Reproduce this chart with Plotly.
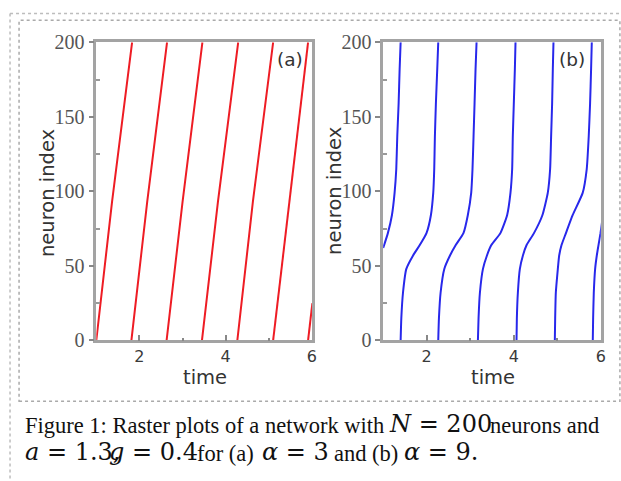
import plotly.graph_objects as go

# ---------------- data ----------------
# panel (a): alpha = 3, nearly straight travelling waves
a_index = [0, 93, 200]
a_wave1 = [1.00, 1.365, 1.83]
a_wave2 = [1.814, 2.18, 2.64]
a_wave3 = [2.63, 3.00, 3.46]
a_wave4 = [3.45, 3.82, 4.29]
a_wave5 = [4.27, 4.63, 5.10]
a_wave6 = [5.10, 5.47, 5.91]
a_wave7_index = [0, 25]
a_wave7 = [5.91, 6.01]

# panel (b): alpha = 9, S-shaped waves
b_index = [0, 15, 32, 48, 57, 64, 72, 84, 99, 115, 137, 159, 182, 200]
b_wave1_index = [62, 72, 84, 99, 115, 137, 159, 182, 200]
b_wave1 = [1.00, 1.108, 1.201, 1.262, 1.301, 1.324, 1.355, 1.378, 1.401]
b_wave2 = [1.401, 1.417, 1.455, 1.532, 1.687, 1.841, 1.995, 2.096, 2.150, 2.173, 2.188, 2.211, 2.242, 2.265]
b_wave3 = [2.265, 2.281, 2.319, 2.404, 2.535, 2.667, 2.844, 2.944, 3.022, 3.052, 3.076, 3.099, 3.122, 3.145]
b_wave4 = [3.176, 3.191, 3.222, 3.292, 3.384, 3.485, 3.693, 3.847, 3.924, 3.963, 3.978, 4.001, 4.025, 4.040]
b_wave5 = [4.063, 4.071, 4.094, 4.140, 4.210, 4.295, 4.464, 4.657, 4.781, 4.835, 4.858, 4.881, 4.897, 4.912]
b_wave6 = [4.943, 4.951, 4.966, 5.012, 5.043, 5.097, 5.198, 5.352, 5.583, 5.676, 5.722, 5.753, 5.776, 5.792]
b_wave7_index = [0, 15, 32, 48, 57, 64, 72, 80]
b_wave7 = [5.815, 5.823, 5.838, 5.869, 5.907, 5.946, 5.992, 6.03]

x_ticks = [2, 4, 6]
x_minor = [1, 3, 5]
y_ticks = [0, 50, 100, 150, 200]
y_minor = [25, 75, 125, 175]

RED = "rgb(238,28,36)"
BLUE = "rgb(40,40,235)"

# ---------------- figure ----------------
W, H = 628, 492
SX, SY, OY = 0.989, 0.958, 9.6   # capture scaling observed on the photographed page


def px(x):
    return x / (SX * W)


def py(y):
    return 1 - ((y - OY) / SY) / H


fig = go.Figure()

a_series = [(a_index, a_wave1), (a_index, a_wave2), (a_index, a_wave3), (a_index, a_wave4),
            (a_index, a_wave5), (a_index, a_wave6), (a_wave7_index, a_wave7)]
for idx, t in a_series:
    fig.add_trace(go.Scatter(x=t, y=idx, mode="lines", line=dict(color=RED, width=2),
                             xaxis="x", yaxis="y", showlegend=False, hoverinfo="skip"))

b_series = [(b_wave1_index, b_wave1), (b_index, b_wave2), (b_index, b_wave3), (b_index, b_wave4),
            (b_index, b_wave5), (b_index, b_wave6), (b_wave7_index, b_wave7)]
for idx, t in b_series:
    fig.add_trace(go.Scatter(x=t, y=idx, mode="lines",
                             line=dict(color=BLUE, width=2, shape="spline", smoothing=0.5),
                             xaxis="x2", yaxis="y2", showlegend=False, hoverinfo="skip"))

FRAME = "#a3a3a3"
xax = dict(range=[1, 6], tickvals=x_ticks, ticks="inside", ticklen=6, tickwidth=1.5, tickcolor="#888",
           showline=True, linecolor=FRAME, linewidth=2.5, mirror=True, showgrid=False, zeroline=False,
           tickfont=dict(family="DejaVu Sans", size=16, color="#3a3a3a"),
           minor=dict(tickvals=x_minor, ticks="inside", ticklen=3, tickcolor="#888", showgrid=False))
yax = dict(range=[0, 200], tickvals=y_ticks, ticks="outside", ticklen=5, tickwidth=1.5, tickcolor="#888",
           showline=True, linecolor=FRAME, linewidth=2.5, mirror=True, showgrid=False, zeroline=False,
           tickfont=dict(family="Liberation Serif, serif", size=20, color="#555"),
           minor=dict(tickvals=y_minor, ticks="inside", ticklen=4, tickcolor="#999", showgrid=False))

y_dom = [py(340), py(41)]
fig.update_layout(
    width=W, height=H, autosize=False,
    margin=dict(l=0, r=0, t=0, b=0, pad=0),
    paper_bgcolor="white", plot_bgcolor="white",
    xaxis=dict(domain=[px(96), px(311)], anchor="y", **xax),
    yaxis=dict(domain=y_dom, anchor="x", **yax),
    xaxis2=dict(domain=[px(382), px(599)], anchor="y2", **xax),
    yaxis2=dict(domain=y_dom, anchor="x2", **yax),
)

ann = []
lab = dict(family="DejaVu Sans", size=19.5, color="#333")
C = dict(xref="paper", yref="paper", showarrow=False, xanchor="center", yanchor="middle")
ann.append(dict(text="time", x=px(204), y=py(377), font=lab, **C))
ann.append(dict(text="time", x=px(491), y=py(377), font=lab, **C))
ann.append(dict(text="neuron index", x=px(48), y=py(192), font=lab, textangle=-90, **C))
ann.append(dict(text="neuron index", x=px(334), y=py(190), font=lab, textangle=-90, **C))
ann.append(dict(text="(a)", x=px(289), y=py(58), font=dict(family="DejaVu Sans", size=18.5, color="#333"), **C))
ann.append(dict(text="(b)", x=px(570), y=py(58), font=dict(family="DejaVu Sans", size=18.5, color="#333"), **C))

# caption
TXT = dict(family="Liberation Serif", size=22.5, color="#111")
MATH = dict(family="DejaVu Serif", size=24, color="#111")
line1 = 425
line2 = 453
pieces = [
    ("Figure 1: Raster plots of a network with", 23, line1, TXT, "left"),
    ("<i>N</i> = 200", 386, line1 - 1, MATH, "left"),
    ("neurons and", 599, line1, TXT, "right"),
    ("<i>a</i> = 1.3,", 23, line2 - 1, MATH, "left"),
    ("<i>g</i> = 0.4", 107, line2 - 1, MATH, "left"),
    ("for (a)", 194, line2, TXT, "left"),
    ("<i>α</i> = 3", 259, line2 - 1, MATH, "left"),
    ("and (b)", 331, line2, TXT, "left"),
    ("<i>α</i> = 9.", 401, line2 - 1, MATH, "left"),
]
for text, x0, yc, f, xa in pieces:
    ann.append(dict(text=text, x=px(x0), y=py(yc), xref="paper", yref="paper", xanchor=xa,
                    yanchor="middle", showarrow=False, font=f))
fig.update_layout(annotations=ann)

# dotted frames
shapes = []
outer = dict(color="#bdbdbd", width=1.5, dash="dot")
inner = dict(color="#aaaaaa", width=1.5, dash="dot")
shapes.append(dict(type="line", xref="paper", yref="paper", x0=px(10), x1=1, y0=py(12), y1=py(12), line=outer))
shapes.append(dict(type="line", xref="paper", yref="paper", x0=px(10), x1=px(10), y0=py(12), y1=0, line=outer))
shapes.append(dict(type="rect", xref="paper", yref="paper", x0=px(19), x1=px(618), y0=py(401), y1=py(19), line=inner))
fig.update_layout(shapes=shapes)

post = ("var gd=document.getElementById('{plot_id}');"
        "document.documentElement.style.margin='0';document.body.style.margin='0';"
        "document.body.style.padding='0';document.body.style.overflow='hidden';"
        "gd.style.position='absolute';gd.style.left='0px';gd.style.top='0px';")

fig.write_html("out.html", config={"responsive": False, "displayModeBar": False}, post_script=post)
